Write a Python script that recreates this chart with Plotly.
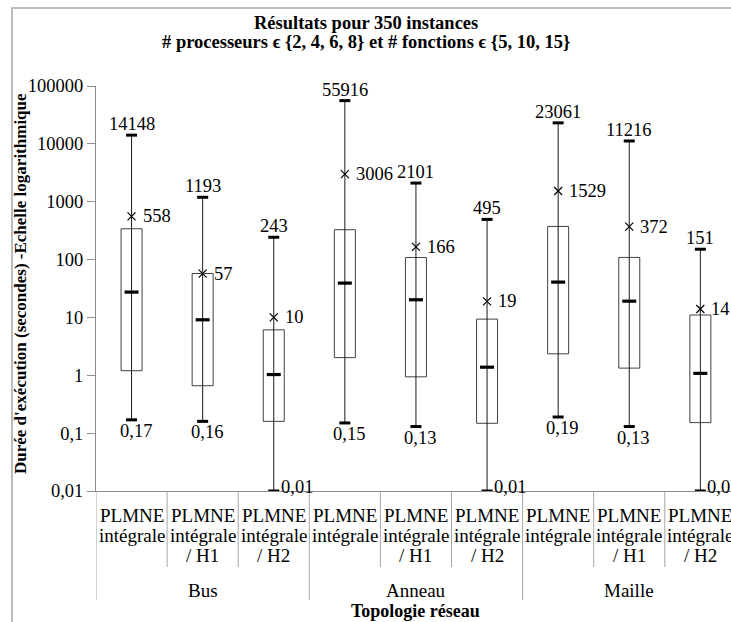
import numpy as np
import plotly.graph_objects as go

# ---------------- data ----------------
groups = ["Bus", "Anneau", "Maille"]
methods = [["PLMNE", "intégrale", ""],
           ["PLMNE", "intégrale", "/ H1"],
           ["PLMNE", "intégrale", "/ H2"]]

min_vals = [0.17, 0.16, 0.01, 0.15, 0.13, 0.01, 0.19, 0.13, 0.01]
q1_vals = [1.2, 0.66, 0.16, 2.02, 0.94, 0.148, 2.35, 1.33, 0.152]
median_vals = [27.4, 9.1, 1.03, 39.2, 20.2, 1.38, 40.8, 19.1, 1.08]
q3_vals = [341, 57.5, 6.1, 328, 108.7, 9.35, 374, 109, 11.0]
max_vals = [14148, 1193, 243, 55916, 2101, 495, 23061, 11216, 151]
mean_vals = [558, 57, 10, 3006, 166, 19, 1529, 372, 14]

y_tickvals = [0.01, 0.1, 1, 10, 100, 1000, 10000, 100000]
y_ticktext = ["0,01", "0,1", "1", "10", "100", "1000", "10000", "100000"]

title_lines = ["Résultats pour 350 instances",
               "# processeurs ϵ {2, 4, 6, 8} et # fonctions ϵ {5, 10, 15}"]
y_title = "Durée d'exécution (secondes) -Echelle logarithmique"
x_title = "Topologie réseau"

# ---------------- layout geometry ----------------
W, H = 731, 622
ML, MR, MT, MB = 96, 0, 86, 131
plot_w = W - ML - MR
plot_h = H - MT - MB
cat_px = 71.1
x_end = -0.5 + plot_w / cat_px

FONT = "Liberation Serif"
n = len(max_vals)
xs = list(range(n))

def py(y):  # pixel y -> paper y
    return (H - MB - y) / plot_h

def px(x):  # pixel x -> paper x
    return (x - ML) / plot_w

def fmt(v):
    s = ("%g" % v)
    return s.replace(".", ",")

box_hw = 10.5 / cat_px
cap_hw = 5.5 / cat_px
med_hw = 7.0 / cat_px

fig = go.Figure()

# boxes (outline)
bx, by = [], []
for i in xs:
    bx += [i - box_hw, i + box_hw, i + box_hw, i - box_hw, i - box_hw, None]
    by += [q1_vals[i], q1_vals[i], q3_vals[i], q3_vals[i], q1_vals[i], None]
fig.add_trace(go.Scatter(x=bx, y=by, mode="lines",
                         line=dict(color="#404040", width=1),
                         hoverinfo="skip", showlegend=False))

# whiskers
wx, wy = [], []
for i in xs:
    wx += [i, i, None]
    wy += [min_vals[i], max_vals[i], None]
fig.add_trace(go.Scatter(x=wx, y=wy, mode="lines",
                         line=dict(color="#1a1a1a", width=1),
                         hoverinfo="skip", showlegend=False))

# caps
cx, cy = [], []
for i in xs:
    cx += [i - cap_hw, i + cap_hw, None, i - cap_hw, i + cap_hw, None]
    cy += [max_vals[i], max_vals[i], None, min_vals[i], min_vals[i], None]
fig.add_trace(go.Scatter(x=cx, y=cy, mode="lines",
                         line=dict(color="black", width=3),
                         hoverinfo="skip", showlegend=False))

# medians
mx, my = [], []
for i in xs:
    mx += [i - med_hw, i + med_hw, None]
    my += [median_vals[i], median_vals[i], None]
fig.add_trace(go.Scatter(x=mx, y=my, mode="lines",
                         line=dict(color="black", width=3.2),
                         hoverinfo="skip", showlegend=False))

# means
fig.add_trace(go.Scatter(x=xs, y=mean_vals, mode="markers",
                         marker=dict(symbol="x-thin", size=8,
                                     line=dict(color="black", width=1.2)),
                         hoverinfo="skip", showlegend=False))

ann = []
lab_font = dict(family=FONT, size=18.5, color="black")
for i in xs:
    ann.append(dict(x=i, y=np.log10(max_vals[i]), xref="x", yref="y",
                    text=fmt(max_vals[i]), showarrow=False, font=lab_font,
                    xanchor="center", yanchor="bottom", yshift=-1))
    ann.append(dict(x=i, y=np.log10(mean_vals[i]), xref="x", yref="y",
                    text=fmt(mean_vals[i]), showarrow=False, font=lab_font,
                    xanchor="left", yanchor="middle", xshift=9))
    if min_vals[i] <= 0.01:
        ann.append(dict(x=i, y=np.log10(min_vals[i]), xref="x", yref="y",
                        text=fmt(min_vals[i]), showarrow=False, font=lab_font,
                        xanchor="left", yanchor="middle", xshift=5, yshift=4))
    else:
        ann.append(dict(x=i, y=np.log10(min_vals[i]), xref="x", yref="y",
                        text=fmt(min_vals[i]), showarrow=False, font=lab_font,
                        xanchor="center", yanchor="top", xshift=4, yshift=1))

# category labels
cat_font = dict(family=FONT, size=19, color="black")
line_y = [515, 535, 555]
for g in range(len(groups)):
    for m in range(len(methods)):
        i = g * len(methods) + m
        for k, t in enumerate(methods[m]):
            if t:
                ann.append(dict(x=i, y=py(line_y[k]), xref="x", yref="paper",
                                text=t, showarrow=False, font=cat_font,
                                xanchor="center", yanchor="middle"))
    ann.append(dict(x=g * len(methods) + (len(methods) - 1) / 2, y=py(590),
                    xref="x", yref="paper", text=groups[g], showarrow=False,
                    font=cat_font, xanchor="center", yanchor="middle"))

ann.append(dict(x=(len(xs) - 1) / 2, y=py(611), xref="x", yref="paper",
                text="<b>%s</b>" % x_title, showarrow=False,
                font=dict(family=FONT, size=18, color="black"),
                xanchor="center", yanchor="middle"))

# titles
for k, (t, yy) in enumerate(zip(title_lines, [22.7, 41.7])):
    ann.append(dict(x=px(366), y=py(yy), xref="paper", yref="paper",
                    text="<b>%s</b>" % t, showarrow=False,
                    font=dict(family=FONT, size=18.5, color="black"),
                    xanchor="center", yanchor="middle"))

ann.append(dict(x=px(20), y=py(284), xref="paper", yref="paper",
                text="<b>%s</b>" % y_title, showarrow=False, textangle=-90,
                font=dict(family=FONT, size=17, color="black"),
                xanchor="center", yanchor="middle"))

# separators
shapes = []
for k in range(n + 1):
    xb = k - 0.5
    bottom = 600 if k % len(methods) == 0 else 567
    shapes.append(dict(type="line", xref="x", yref="paper", x0=xb, x1=xb,
                       y0=0, y1=py(bottom), line=dict(color="#a6a6a6", width=1)))
# outer chart border
shapes.append(dict(type="rect", xref="paper", yref="paper",
                   x0=px(12), x1=px(W + 20), y0=py(8), y1=py(H + 20),
                   line=dict(color="#a6a6a6", width=1.5), fillcolor="rgba(0,0,0,0)"))

fig.update_layout(
    width=W, height=H,
    margin=dict(l=ML, r=MR, t=MT, b=MB, pad=0),
    paper_bgcolor="white", plot_bgcolor="white",
    showlegend=False,
    annotations=ann, shapes=shapes,
    xaxis=dict(range=[-0.5, x_end], showgrid=False, zeroline=False,
               showticklabels=False, ticks="", showline=True,
               linecolor="#8c8c8c", linewidth=1),
    yaxis=dict(type="log", range=[-2, 5], showgrid=False, zeroline=False,
               tickvals=y_tickvals, ticktext=y_ticktext,
               ticks="outside", ticklen=8, tickcolor="#8c8c8c", tickwidth=1,
               showline=True, linecolor="#8c8c8c", linewidth=1,
               tickfont=dict(family=FONT, size=18.5, color="black")),
)

fig.write_html("out.html", config={"displayModeBar": False},
               post_script="document.body.style.margin='0';")
